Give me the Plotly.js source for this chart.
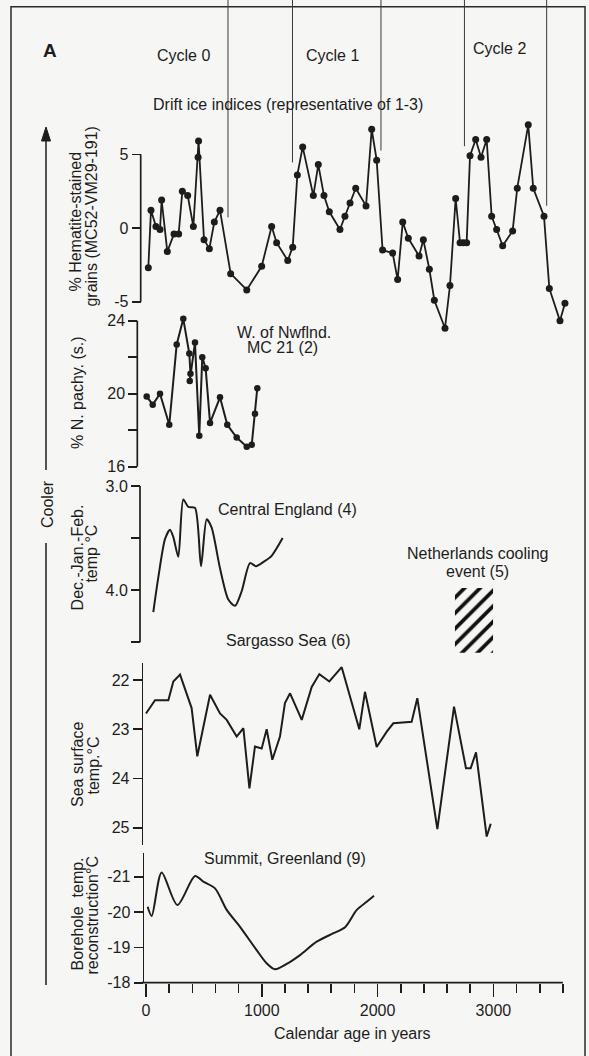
<!DOCTYPE html>
<html>
<head>
<meta charset="utf-8">
<script src="https://cdn.plot.ly/plotly-3.0.1.min.js"></script>
<style>
  html, body { margin: 0; padding: 0; background: #f6f6f4; }
  #chart { width: 589px; height: 1056px; }
</style>
</head>
<body>
<div id="chart"></div>
<script>
// ---- Data --------------------------------------------------------------
// Drift ice index: % hematite-stained grains (MC52-VM29-191)
const driftYears = [20, 43, 86, 121, 135, 184, 242, 282, 314, 360, 409, 450, 454, 501, 547,
  590, 639, 731, 870, 999, 1085, 1128, 1224, 1267, 1307, 1353, 1445, 1488, 1537, 1583,
  1675, 1718, 1762, 1811, 1900, 1949, 1992, 2043, 2130, 2173, 2217, 2265, 2358, 2395, 2447,
  2490, 2582, 2625, 2674, 2712, 2740, 2769, 2798, 2847, 2893, 2942, 2985, 3028, 3080, 3166,
  3206, 3301, 3344, 3437, 3483, 3575, 3618];
const driftPct = [-2.7, 1.2, 0.1, -0.1, 1.9, -1.6, -0.4, -0.4, 2.5, 2.2, 0.1, 4.8, 5.9, -0.8, -1.4,
  0.4, 1.2, -3.1, -4.2, -2.6, 0.1, -1.0, -2.2, -1.3, 3.6, 5.5, 2.2, 4.3, 2.2, 1.1,
  -0.1, 0.8, 1.7, 2.7, 1.5, 6.7, 4.6, -1.5, -1.7, -3.5, 0.4, -0.7, -1.9, -0.8, -2.8,
  -4.9, -6.8, -3.9, 2.0, -1.0, -1.0, -1.0, 4.9, 6.0, 4.8, 6.0, 0.8, -0.1, -1.2, -0.2,
  2.7, 7.0, 2.7, 0.8, -4.1, -6.3, -5.1];

// W. of Newfoundland, MC 21: % N. pachyderma (s.)
const pachyYears = [6, 58, 121, 201, 265, 322, 374, 384, 378, 423, 460, 486, 515, 553, 639, 702, 783, 870, 913, 941, 961];
const pachyPct = [19.85, 19.4, 20.0, 18.3, 22.7, 24.1, 22.2, 21.1, 20.7, 22.8, 17.7, 22.0, 21.4, 18.4, 19.8, 18.3, 17.6, 17.1, 17.2, 18.9, 20.3];

// Central England: Dec.-Jan.-Feb. temperature (deg C)
const englandYears = [63, 106, 164, 207, 236, 279, 322, 365, 423, 475, 524, 567, 639, 711, 769, 826, 898, 950, 1013, 1085, 1180];
const englandTemp = [4.21, 3.88, 3.51, 3.42, 3.49, 3.68, 3.13, 3.20, 3.21, 3.77, 3.32, 3.40, 3.79, 4.09, 4.15, 4.01, 3.74, 3.77, 3.73, 3.67, 3.50];

// Netherlands cooling event: time span and temperature band on the same scale
const coolingEventYears = [2668, 2997];
const coolingEventTemp = [3.98, 4.60];

// Sargasso Sea: sea surface temperature (deg C)
const sargassoYears = [0, 78, 193, 236, 294, 394, 443, 553, 639, 697, 783, 841, 893, 941, 999,
  1042, 1091, 1157, 1200, 1244, 1345, 1431, 1497, 1583, 1690, 1842, 1891, 1992, 2079, 2136,
  2294, 2343, 2516, 2660, 2763, 2804, 2850, 2942, 2977];
const sargassoTemp = [22.68, 22.41, 22.41, 22.03, 21.89, 22.57, 23.55, 22.30, 22.68, 22.81, 23.15, 22.98, 24.20, 23.35, 23.39,
  23.00, 23.62, 23.15, 22.47, 22.27, 22.81, 22.14, 21.88, 22.03, 21.74, 23.00, 22.24, 23.36, 23.05, 22.88,
  22.85, 22.37, 25.03, 22.54, 23.79, 23.79, 23.47, 25.18, 24.92];

// Summit, Greenland: borehole temperature reconstruction (deg C)
const summitYears = [14, 49, 135, 271, 423, 495, 596, 697, 812, 956, 1042, 1114, 1215, 1330, 1474, 1618, 1719, 1820, 1906, 1969];
const summitTemp = [-20.15, -19.89, -21.12, -20.2, -21.02, -20.86, -20.67, -20.06, -19.58, -18.92, -18.55, -18.38, -18.53, -18.78, -19.16, -19.40, -19.57, -20.06, -20.29, -20.46];

// Guide lines dropping onto the drift ice record (year, level on the % axis)
const guideYears = [708, 1265, 2029, 2750, 3460];
const guideLevels = [0.72, 4.45, 5.25, 5.55, 1.51];

// Tick labels
const xTickVals = [0, 1000, 2000, 3000];
const driftTicks = [5, 0, -5];
const pachyTicks = [24, 22, 20, 18, 16];
const pachyTickText = ['24', '', '20', '', '16'];
const englandTicks = [3.0, 3.5, 4.0, 4.5];
const englandTickText = ['3.0', '', '4.0', ''];
const sargassoTicks = [22, 23, 24, 25];
const summitTicks = [-21, -20, -19, -18];

// ---- Geometry ----------------------------------------------------------
const W = 589, H = 1056;
const L = 137, R = 19;
const X0 = 146, PX_PER_YR = 0.1158;       // pixel of year 0, pixels per year
const plotW = W - L - R;
const xRange = [(L - X0) / PX_PER_YR, (W - R - X0) / PX_PER_YR];
const px = x => (x - L) / plotW;          // pixel x -> paper x
const py = y => (H - y) / H;              // pixel y -> paper y
const yearPx = yr => X0 + yr * PX_PER_YR;

const FONT = 'Liberation Sans, Arial, Helvetica, sans-serif';
const INK = '#1d1d1d';
const FS = 16;

// vertical placement of each record: pixel band plus two calibration points
const panels = {
  drift:    {top: 116,   bottom: 338,   v1: 5,   p1: 154.3, v2: -5,  p2: 301.7, spineX: 140.7},
  pachy:    {top: 312,   bottom: 472,   v1: 24,  p1: 320.7, v2: 16,  p2: 466.7, spineX: 137.3},
  england:  {top: 480,   bottom: 658,   v1: 3.0, p1: 486,   v2: 4.5, p2: 642.3, spineX: 140},
  sargasso: {top: 662.7, bottom: 845,   v1: 22,  p1: 680,   v2: 25,  p2: 827.7, spineX: 141.7},
  summit:   {top: 853.3, bottom: 982.7, v1: -21, p1: 876.7, v2: -18, p2: 982.7, spineX: 142.5}
};
const valueY = (p, v) => p.p1 + (v - p.v1) * (p.p2 - p.p1) / (p.v2 - p.v1);

function yAxis(p, tickvals, ticktext, showline) {
  const k = (p.v2 - p.v1) / (p.p2 - p.p1);
  return {
    domain: [py(p.bottom), py(p.top)],
    range: [p.v1 + (p.bottom - p.p1) * k, p.v1 + (p.top - p.p1) * k],
    anchor: 'free', position: px(p.spineX), side: 'left',
    showline: !!showline, linecolor: INK, linewidth: 1.7,
    showgrid: false, zeroline: false,
    ticks: 'outside', ticklen: 9, tickwidth: 1.6, tickcolor: INK,
    tickmode: 'array', tickvals: tickvals, ticktext: ticktext || tickvals.map(String),
    tickfont: {family: FONT, size: FS, color: INK},
    fixedrange: true
  };
}

// ---- Traces ------------------------------------------------------------
const lineStyle = {color: INK, width: 1.8};
const traces = [
  {x: driftYears, y: driftPct, yaxis: 'y', type: 'scatter', mode: 'lines+markers',
   line: lineStyle, marker: {size: 7, color: INK}, cliponaxis: false, hoverinfo: 'skip'},
  {x: pachyYears, y: pachyPct, yaxis: 'y2', type: 'scatter', mode: 'lines+markers',
   line: {color: INK, width: 2}, marker: {size: 6.5, color: INK}, cliponaxis: false, hoverinfo: 'skip'},
  {x: englandYears, y: englandTemp, yaxis: 'y3', type: 'scatter', mode: 'lines',
   line: {color: INK, width: 2, shape: 'spline', smoothing: 0.7}, hoverinfo: 'skip'},
  {x: [(coolingEventYears[0] + coolingEventYears[1]) / 2],
   width: [coolingEventYears[1] - coolingEventYears[0]],
   base: [coolingEventTemp[0]], y: [coolingEventTemp[1] - coolingEventTemp[0]],
   yaxis: 'y3', type: 'bar', hoverinfo: 'skip',
   marker: {color: 'rgba(0,0,0,0)', line: {width: 0},
            pattern: {shape: '/', fgcolor: '#111111', fgopacity: 1, bgcolor: 'rgba(0,0,0,0)',
                      size: 11, solidity: 0.34, fillmode: 'overlay'}}},
  {x: sargassoYears, y: sargassoTemp, yaxis: 'y4', type: 'scatter', mode: 'lines',
   line: {color: INK, width: 2}, hoverinfo: 'skip'},
  {x: summitYears, y: summitTemp, yaxis: 'y5', type: 'scatter', mode: 'lines',
   line: {color: INK, width: 2, shape: 'spline', smoothing: 0.8}, hoverinfo: 'skip'}
];

// ---- Decorations -------------------------------------------------------
const paperLine = (x0, y0, x1, y1, w, c) => ({type: 'line', xref: 'paper', yref: 'paper',
  x0: px(x0), y0: py(y0), x1: px(x1), y1: py(y1), line: {color: c || INK, width: w || 1.7}});

const shapes = [
  // outer frame
  {type: 'rect', xref: 'paper', yref: 'paper', x0: px(11), x1: px(585), y0: py(1064), y1: py(6.7),
   line: {color: '#2a2a2a', width: 1.5}, fillcolor: 'rgba(0,0,0,0)'},
  // bracket spines
  paperLine(panels.drift.spineX, valueY(panels.drift, 5), panels.drift.spineX, valueY(panels.drift, -5)),
  paperLine(panels.pachy.spineX, valueY(panels.pachy, 24), panels.pachy.spineX, valueY(panels.pachy, 16)),
  paperLine(panels.england.spineX, valueY(panels.england, 3.0), panels.england.spineX, valueY(panels.england, 4.5)),
  // time axis line
  paperLine(panels.summit.spineX - 0.8, panels.summit.bottom, yearPx(3600), panels.summit.bottom),
  // "Cooler" arrow shaft and lower stem
  paperLine(46, 470, 46, 138, 1.5),
  paperLine(46, 543, 46, 985, 1.5),
  {type: 'path', xref: 'paper', yref: 'paper',
   path: `M ${px(46)} ${py(127)} L ${px(41.5)} ${py(141)} L ${px(50.5)} ${py(141)} Z`,
   fillcolor: INK, line: {color: INK, width: 1}}
];
guideYears.forEach((yr, i) => {
  shapes.push(paperLine(yearPx(yr), -2, yearPx(yr), valueY(panels.drift, guideLevels[i]), 1, '#3a3a3a'));
});

function note(text, x, y, size, extra) {
  return Object.assign({xref: 'paper', yref: 'paper', x: px(x), y: py(y), text: text,
    showarrow: false, xanchor: 'center', yanchor: 'middle',
    font: {family: FONT, size: size || FS, color: INK}}, extra || {});
}
const vert = {textangle: -90};

const annotations = [
  note('<b>A</b>', 50, 50, 19),
  note('Cycle 0', 183, 55),
  note('Cycle 1', 332, 55),
  note('Cycle 2', 499, 49),
  note('Drift ice indices (representative of 1-3)', 288, 104),
  note('W. of Nwflnd.', 284, 333),
  note('MC 21 (2)', 282, 347),
  note('Central England (4)', 287, 509),
  note('Netherlands cooling', 477, 553),
  note('event (5)', 477, 571),
  note('Sargasso Sea (6)', 288, 641),
  note('Summit, Greenland (9)', 285, 858),
  note('Calendar age in years', 352, 1033),
  note('Cooler', 47, 504, FS, vert),
  note('% Hematite-stained', 75.5, 222, FS, vert),
  note('grains (MC52-VM29-191)', 90.6, 216, FS, vert),
  note('% N. pachy. (s.)', 77, 393, FS, vert),
  note('Dec.-Jan.-Feb.', 77.4, 557, FS, vert),
  note('temp °C', 90.6, 554, FS, vert),
  note('Sea surface', 78, 765, FS, vert),
  note('temp.°C', 92.5, 766, FS, vert),
  note('Borehole&nbsp;&nbsp;temp.', 77.4, 914, FS, vert),
  note('reconstruction°C', 91.5, 916, FS, vert)
];

const layout = {
  width: W, height: H,
  margin: {l: L, r: R, t: 0, b: 0, pad: 0},
  paper_bgcolor: '#f6f6f4', plot_bgcolor: 'rgba(0,0,0,0)',
  showlegend: false, barmode: 'overlay',
  font: {family: FONT, size: FS, color: INK},
  xaxis: {
    domain: [0, 1], range: xRange, anchor: 'y5',
    showline: false, showgrid: false, zeroline: false,
    ticks: 'outside', ticklen: 13, tickwidth: 1.6, tickcolor: INK,
    tickmode: 'array', tickvals: xTickVals, ticktext: xTickVals.map(String),
    minor: {ticks: 'outside', tick0: 0, dtick: 200, ticklen: 9, tickwidth: 1.6, tickcolor: INK, showgrid: false},
    tickfont: {family: FONT, size: FS, color: INK},
    fixedrange: true
  },
  yaxis: yAxis(panels.drift, driftTicks),
  yaxis2: yAxis(panels.pachy, pachyTicks, pachyTickText),
  yaxis3: yAxis(panels.england, englandTicks, englandTickText),
  yaxis4: yAxis(panels.sargasso, sargassoTicks, null, true),
  yaxis5: yAxis(panels.summit, summitTicks, null, true),
  shapes: shapes,
  annotations: annotations
};

Plotly.newPlot('chart', traces, layout, {staticPlot: true, displayModeBar: false});
</script>
</body>
</html>
